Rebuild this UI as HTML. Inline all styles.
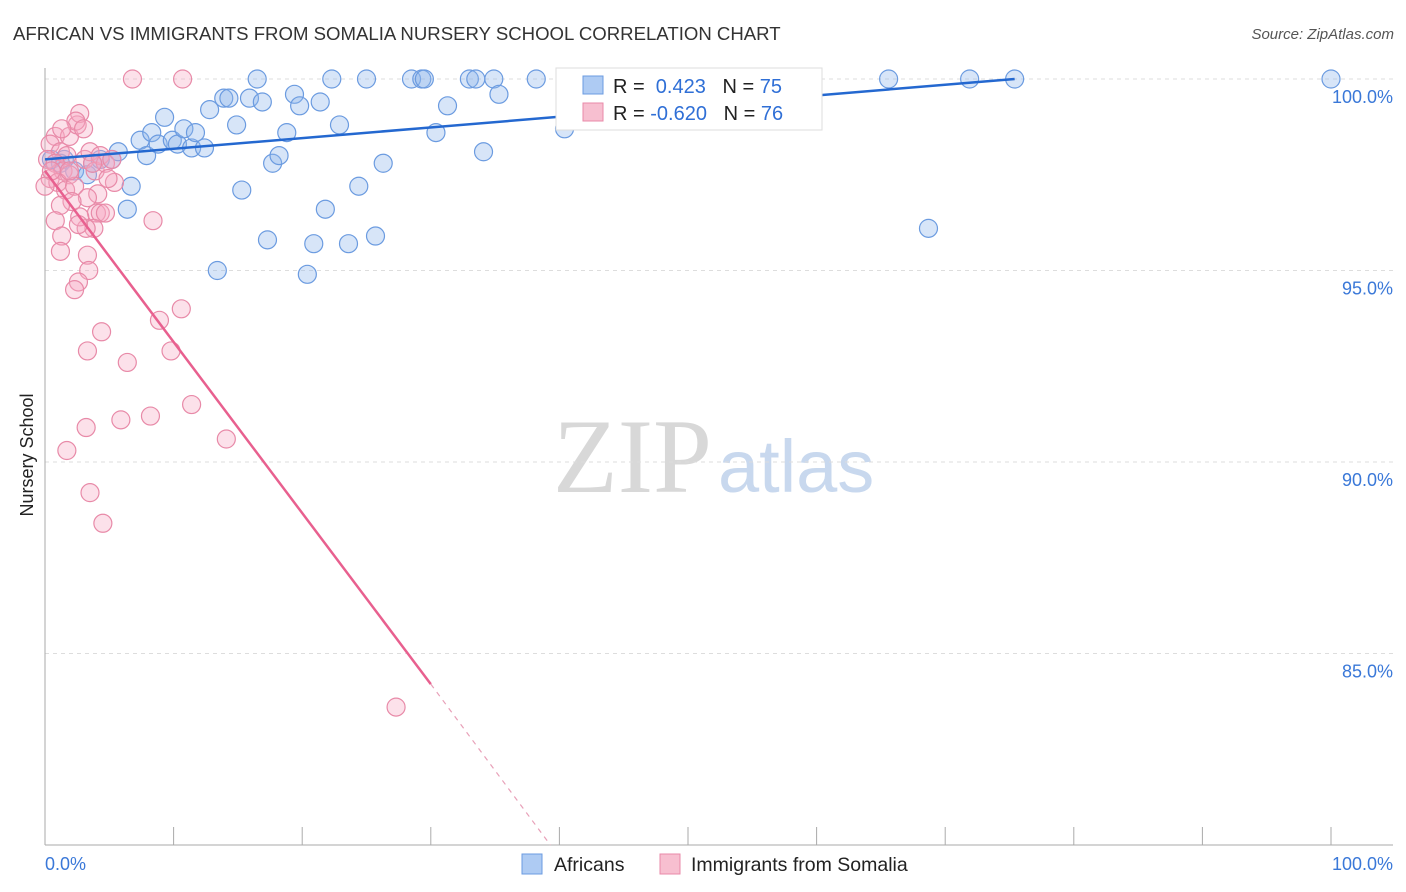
<!DOCTYPE html>
<html><head><meta charset="utf-8"><style>
body{margin:0;background:#fff;font-family:"Liberation Sans",sans-serif}
svg{display:block}
</style></head><body>
<svg id="chart" width="1406" height="892">
<text x="13" y="40" font-size="18.6" fill="#333">AFRICAN VS IMMIGRANTS FROM SOMALIA NURSERY SCHOOL CORRELATION CHART</text>
<text x="1394" y="39" font-size="15" fill="#555" font-style="italic" text-anchor="end">Source: ZipAtlas.com</text>
<text x="33" y="455" font-size="18" fill="#222" transform="rotate(-90 33 455)" text-anchor="middle">Nursery School</text>
<g>
<text x="553" y="492" font-size="106" font-family="Liberation Serif,serif" fill="#d8d8d8">ZIP</text>
<text x="718" y="492" font-size="74" fill="#c8d8ee">atlas</text>
</g>
<g id="grid"></g><g id="axes"></g><g id="pts"></g><g id="lines"></g>
<g>
<rect x="556" y="68" width="266" height="62" fill="#fff" stroke="#ddd"/>
<rect x="583" y="76" width="20" height="18" fill="#aecbf3" stroke="#6b9be0"/>
<rect x="583" y="103" width="20" height="18" fill="#f7bfd0" stroke="#e88aa8"/>
<text x="613" y="93" font-size="20" fill="#222">R = <tspan fill="#2f6fd6">&#160;0.423</tspan>&#160;&#160;&#160;N = <tspan fill="#2f6fd6">75</tspan></text>
<text x="613" y="120" font-size="20" fill="#222">R = <tspan fill="#2f6fd6">-0.620</tspan>&#160;&#160;&#160;N = <tspan fill="#2f6fd6">76</tspan></text>
</g>
<g>
<rect x="522" y="854" width="20" height="20" fill="#aecbf3" stroke="#6b9be0"/>
<text x="554" y="871" font-size="19.5" fill="#222">Africans</text>
<rect x="660" y="854" width="20" height="20" fill="#f7bfd0" stroke="#e88aa8"/>
<text x="691" y="871" font-size="19.5" fill="#222">Immigrants from Somalia</text>
</g>
</svg>
<script>
const yTicks=[100,95,90,85];
const xTickLabels=["0.0%","100.0%"];
const blueX=[1.5,0.5,1.2,2.3,3.3,3.7,4.3,5.2,5.7,6.7,6.4,7.4,7.9,8.3,8.8,9.3,9.9,10.3,10.8,11.4,11.7,12.4,12.8,13.4,13.9,14.3,14.9,15.3,15.9,16.5,16.9,17.3,17.7,18.2,18.8,19.4,19.8,20.4,20.9,21.4,21.8,22.3,22.9,23.6,24.4,25.0,25.7,26.3,28.5,29.3,29.5,30.4,31.3,33.0,33.5,34.1,34.9,35.3,38.2,40.4,41.8,42.4,43.2,52.2,55.5,59.0,65.6,68.7,71.9,75.4,100];
const blueY=[97.9,97.9,97.8,97.6,97.5,97.8,97.9,97.9,98.1,97.2,96.6,98.4,98.0,98.6,98.3,99.0,98.4,98.3,98.7,98.2,98.6,98.2,99.2,95.0,99.5,99.5,98.8,97.1,99.5,100,99.4,95.8,97.8,98.0,98.6,99.6,99.3,94.9,95.7,99.4,96.6,100,98.8,95.7,97.2,100,95.9,97.8,100,100,100,98.6,99.3,100,100,98.1,100,99.6,100,98.7,99.1,99.8,100,100,100,100,100,96.1,100,100,100];
const pinkX=[6.8,10.7,0.8,1.9,2.5,2.7,2.4,3.0,0.4,1.2,1.7,0.2,0.8,1.4,1.9,0.4,1.0,1.6,2.3,3.1,3.5,3.9,4.3,4.7,5.2,5.4,4.1,3.3,4.0,4.3,3.8,3.2,2.7,2.1,1.2,0.8,1.3,2.6,4.7,8.4,1.2,3.3,3.4,2.6,2.3,4.4,3.3,8.9,10.6,9.8,6.4,3.2,5.9,8.2,11.4,14.1,1.7,3.5,4.5,27.3,1.9,0.5,0,1.3,3.7,4.9];
const pinkY=[100,100,98.5,98.5,98.8,99.1,98.9,98.7,98.3,98.1,98.0,97.9,97.8,97.6,97.5,97.4,97.3,97.1,97.2,97.9,98.1,97.6,98.0,97.8,97.9,97.3,97.0,96.9,96.5,96.5,96.1,96.1,96.4,96.8,96.7,96.3,95.9,96.2,96.5,96.3,95.5,95.4,95.0,94.7,94.5,93.4,92.9,93.7,94.0,92.9,92.6,90.9,91.1,91.2,91.5,90.6,90.3,89.2,88.4,83.6,97.6,97.6,97.2,98.7,97.8,97.4];
const blueTrend=[[0,97.9],[75.4,100]];
const pinkTrend=[[0,97.6],[30,84.2]];
const pinkDash=[[30,84.2],[39.3,80]];
const X=v=>45+v*12.86, Y=v=>79+(100-v)*38.3;
const NS="http://www.w3.org/2000/svg";
function mk(tag,attrs,parent){const e=document.createElementNS(NS,tag);for(const k in attrs)e.setAttribute(k,attrs[k]);document.getElementById(parent).appendChild(e);return e;}
yTicks.forEach(t=>{
 const l=mk('line',{x1:45,x2:1393,y1:Y(t),y2:Y(t),stroke:'#ddd','stroke-dasharray':'4,4'},'grid');
 
 
 const tx=mk('text',{x:1393,y:Y(t)+24,'font-size':18,fill:'#3a78d8','text-anchor':'end'},'grid');
 tx.textContent=t.toFixed(1)+'%';
 
 
});
const ax=mk('line',{x1:45,x2:45,y1:68,y2:845,stroke:'#aaa'},'axes');


const bx=mk('line',{x1:45,x2:1393,y1:845,y2:845,stroke:'#aaa'},'axes');


for(let i=0;i<=10;i++){const t=mk('line',{x1:X(i*10),x2:X(i*10),y1:827,y2:845,stroke:'#aaa'},'axes');
 
 }
xTickLabels.forEach((s,i)=>{const t=mk('text',{x:i?1393:45,y:870,'font-size':18,fill:'#3a78d8','text-anchor':i?'end':'start'},'axes');t.textContent=s;
 
 });
blueX.forEach((v,i)=>{const c=mk('circle',{cx:X(v),cy:Y(blueY[i]),r:9,fill:'rgba(140,180,235,0.35)',stroke:'#6b9be0','stroke-width':1.2},'pts');
 
 });
pinkX.forEach((v,i)=>{const c=mk('circle',{cx:X(v),cy:Y(pinkY[i]),r:9,fill:'rgba(245,170,195,0.35)',stroke:'#e88aa8','stroke-width':1.2},'pts');
 
 });
const bl=mk('line',{x1:X(blueTrend[0][0]),y1:Y(blueTrend[0][1]),x2:X(blueTrend[1][0]),y2:Y(blueTrend[1][1]),stroke:'#2468d0','stroke-width':2.5},'lines');


const pl=mk('line',{x1:X(pinkTrend[0][0]),y1:Y(pinkTrend[0][1]),x2:X(pinkTrend[1][0]),y2:Y(pinkTrend[1][1]),stroke:'#e8608f','stroke-width':2.5},'lines');


const pd=mk('line',{x1:X(pinkDash[0][0]),y1:Y(pinkDash[0][1]),x2:X(pinkDash[1][0]),y2:Y(pinkDash[1][1]),stroke:'#e8a0b8','stroke-width':1.2,'stroke-dasharray':'5,5'},'lines');


</script>
</body></html>
